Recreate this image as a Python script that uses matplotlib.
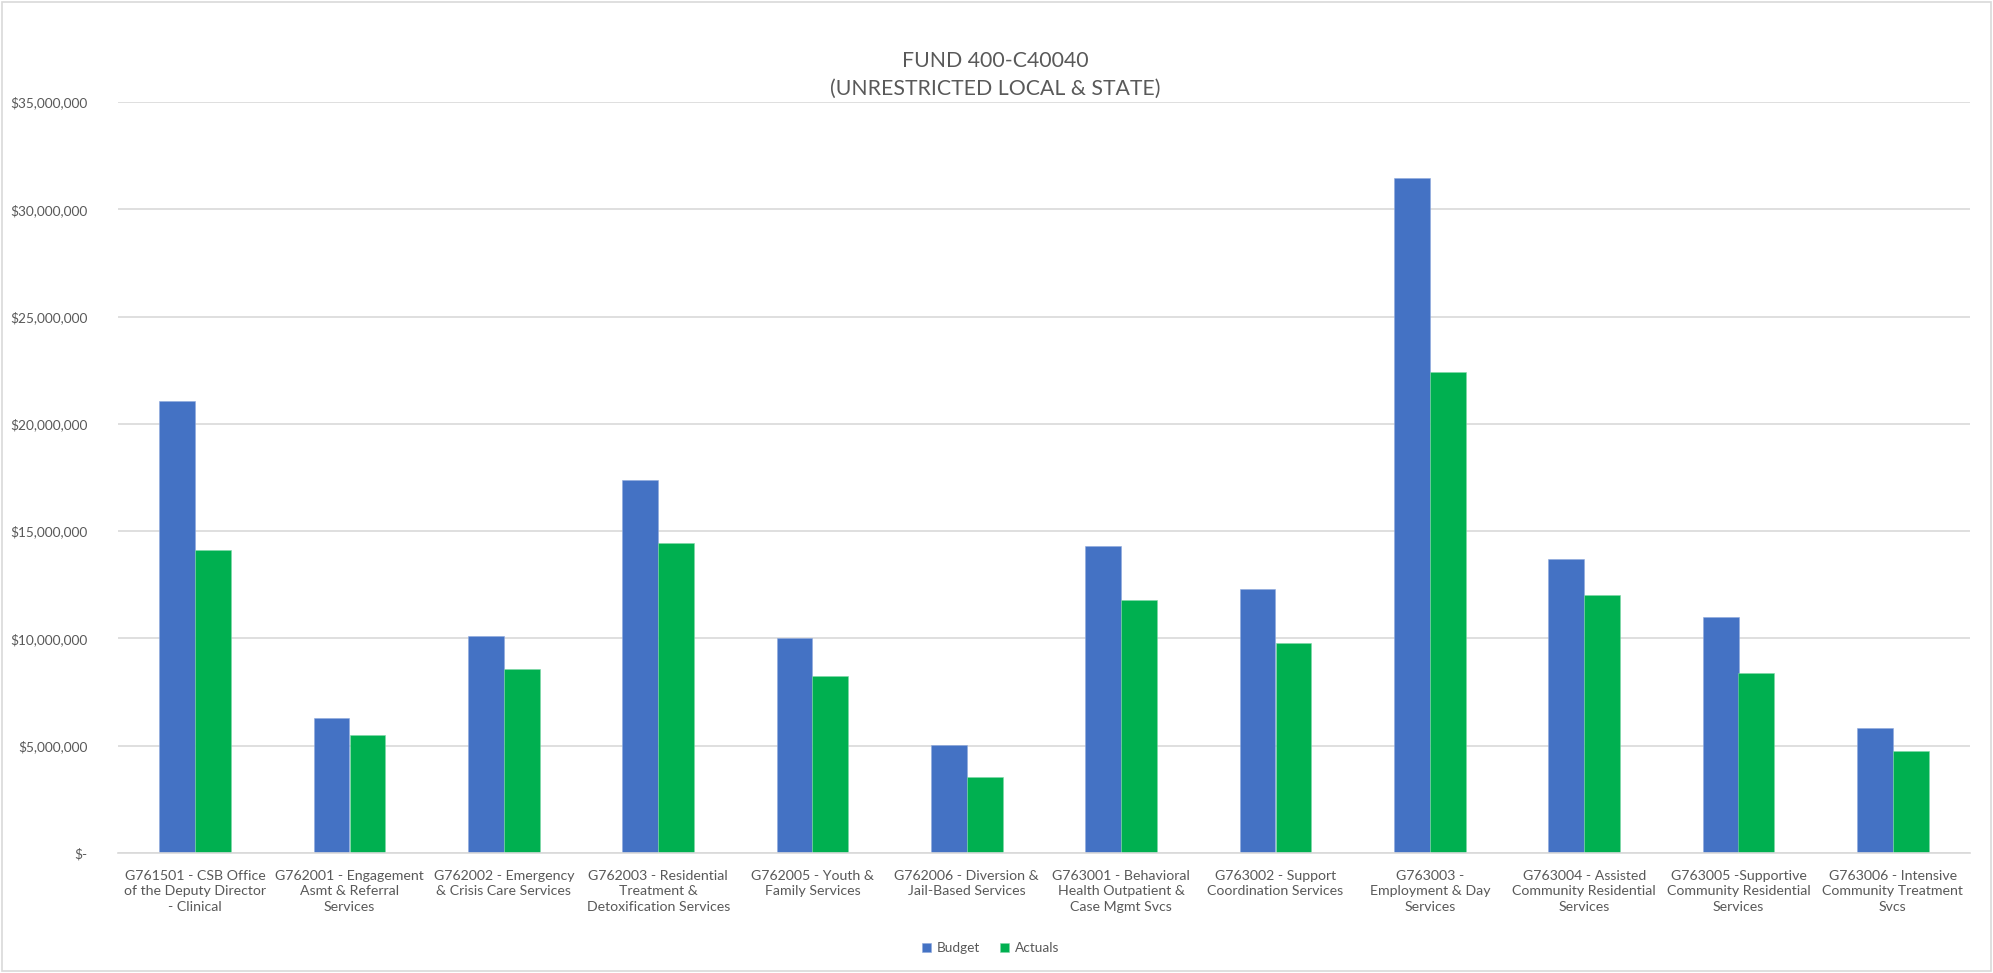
import matplotlib
matplotlib.use("Agg")
import matplotlib.pyplot as plt
import numpy as np
from matplotlib.ticker import FuncFormatter
from matplotlib.patches import Rectangle

categories = [
    "G761501 - CSB Office\nof the Deputy Director\n- Clinical",
    "G762001 - Engagement\nAsmt & Referral\nServices",
    "G762002 - Emergency\n& Crisis Care Services",
    "G762003 - Residential\nTreatment &\nDetoxification Services",
    "G762005 - Youth &\nFamily Services",
    "G762006 - Diversion &\nJail-Based Services",
    "G763001 - Behavioral\nHealth Outpatient &\nCase Mgmt Svcs",
    "G763002 - Support\nCoordination Services",
    "G763003 -\nEmployment & Day\nServices",
    "G763004 - Assisted\nCommunity Residential\nServices",
    "G763005 -Supportive\nCommunity Residential\nServices",
    "G763006 - Intensive\nCommunity Treatment\nSvcs",
]
budget = [21070000, 6310000, 10090000, 17380000, 10020000, 5020000,
          14330000, 12310000, 31460000, 13700000, 10980000, 5820000]
actuals = [14120000, 5500000, 8570000, 14470000, 8250000, 3520000,
           11790000, 9780000, 22420000, 12030000, 8410000, 4740000]
series_names = ["Budget", "Actuals"]
title_text = "FUND 400-C40040\n(UNRESTRICTED LOCAL & STATE)"

plt.rcParams['font.family'] = ['Lato', 'DejaVu Sans']
text_col = "#595959"
grid_col = "#D9D9D9"

W, H = 1993, 973
fig = plt.figure(figsize=(W / 100, H / 100), dpi=100)
fig.patch.set_facecolor("white")
fig.patches.append(Rectangle((2 / W, 2 / H), 1 - 4 / W, 1 - 4 / H, transform=fig.transFigure,
                             fill=False, edgecolor=grid_col, linewidth=1.2))

left, right = 118 / W, 1970 / W
bottom, top = 1 - 853 / H, 1 - 102 / H
ax = fig.add_axes([left, bottom, right - left, top - bottom])

x = np.arange(len(categories))
bw = 0.233
ax.bar(x - bw / 2, budget, bw, color="#4472C4", label=series_names[0], zorder=3,
       edgecolor="#8FA9DC", linewidth=0.4)
ax.bar(x + bw / 2, actuals, bw, color="#00B050", label=series_names[1], zorder=3,
       edgecolor="#7FD7A7", linewidth=0.4)

ax.set_xlim(-0.5, len(categories) - 0.5)
ax.set_ylim(0, 35000000)
ax.set_yticks(np.arange(0, 35000001, 5000000))
ax.yaxis.set_major_formatter(FuncFormatter(lambda v, p: "$-" if v == 0 else "${:,.0f}".format(v)))
ax.grid(axis="y", color=grid_col, linewidth=1.2, zorder=0)
ax.set_axisbelow(True)
for s in ["top", "right", "left"]:
    ax.spines[s].set_visible(False)
ax.spines["bottom"].set_color(grid_col)
ax.spines["bottom"].set_linewidth(1.2)
ax.spines["bottom"].set_zorder(4)

ax.set_xticks(x)
ax.set_xticklabels(categories, fontsize=10.2, color=text_col, linespacing=1.35)
ax.tick_params(axis="x", length=0, pad=12)
ax.tick_params(axis="y", length=0, pad=22, labelsize=9.8, labelcolor=text_col)

fig.text(0.4995, 1 - 75 / H, title_text, ha="center", va="center", fontsize=15.3,
         color=text_col, linespacing=1.5, fontweight="normal")

leg = fig.legend(loc="center", bbox_to_anchor=(0.497, 1 - 948 / H), ncol=2, frameon=False,
                 fontsize=9.8, handlelength=0.65, handleheight=0.65, handletextpad=0.4,
                 columnspacing=1.5, labelcolor=text_col)

fig.savefig("out.png", dpi=100)
